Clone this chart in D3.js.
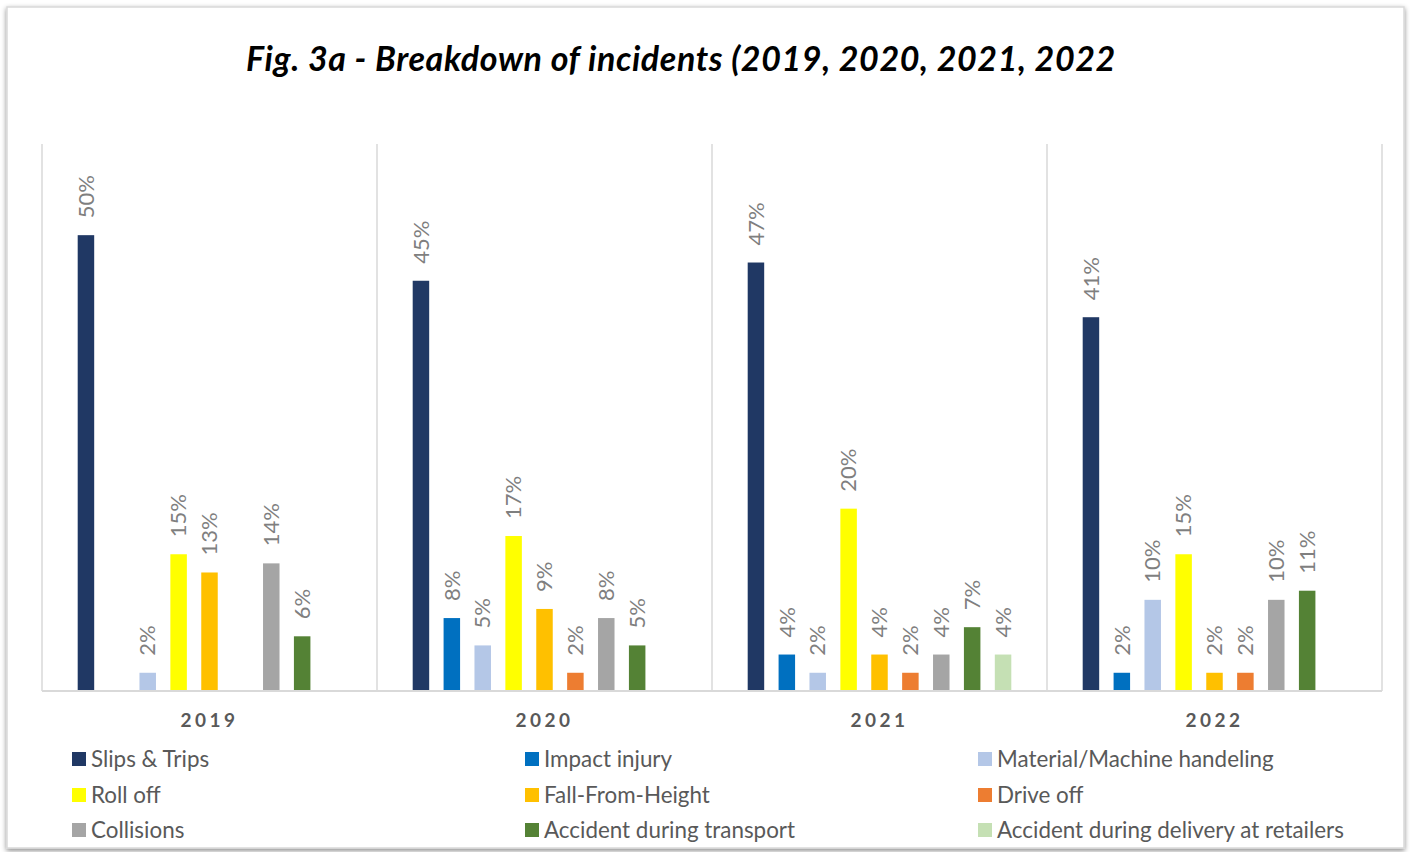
<!DOCTYPE html>
<html>
<head>
<meta charset="utf-8">
<script src="https://cdn.jsdelivr.net/npm/d3@7"></script>
<style>
  html, body { margin: 0; padding: 0; background: #fff; }
  svg { display: block; }
</style>
</head>
<body>
<svg id="chart"></svg>
<script>
// data
const years = ['2019', '2020', '2021', '2022'];
const seriesNames = [
  'Slips & Trips', 'Impact injury', 'Material/Machine handeling',
  'Roll off', 'Fall-From-Height', 'Drive off',
  'Collisions', 'Accident during transport', 'Accident during delivery at retailers'
];
const seriesColors = ['#203864', '#0070C0', '#B4C7E7', '#FFFF00', '#FFC000', '#ED7D31', '#A5A5A5', '#548235', '#C5E0B4'];
// percentages per year, in the order of seriesNames (null = no bar)
const v2019 = [50, null, 2, 15, 13, null, 14, 6, null];
const v2020 = [45, 8, 5, 17, 9, 2, 8, 5, null];
const v2021 = [47, 4, 2, 20, 4, 2, 4, 7, 4];
const v2022 = [41, 2, 10, 15, 2, 2, 10, 11, null];
const yMax = 60;
const titleText = 'Fig. 3a - Breakdown of incidents (2019, 2020, 2021, 2022';

const valuesByYear = [v2019, v2020, v2021, v2022];

const width = 1410, height = 852;
const margin = { top: 144, right: 28, bottom: 161, left: 42 }; // plot area

const svg = d3.select('#chart').attr('width', width).attr('height', height);

// 外框 + 阴影
const defs = svg.append('defs');
const f = defs.append('filter').attr('id', 'shadow')
  .attr('x', '-2%').attr('y', '-2%').attr('width', '104%').attr('height', '104%');
f.append('feDropShadow').attr('dx', 0).attr('dy', 2).attr('stdDeviation', 2.5)
  .attr('flood-color', '#000').attr('flood-opacity', 0.45);

svg.append('rect')
  .attr('x', 7).attr('y', 7).attr('width', 1397).attr('height', 841)
  .attr('fill', '#fff').attr('stroke', '#d9d9d9').attr('stroke-width', 1.5)
  .attr('filter', 'url(#shadow)');

// 标题
svg.append('text')
  .attr('x', 681).attr('y', 71)
  .attr('text-anchor', 'middle')
  .attr('font-family', 'Lato, sans-serif')
  .attr('font-size', 34).attr('font-weight', 'bold').attr('font-style', 'italic')
  .attr('letter-spacing', 0.6)
  .attr('fill', '#000')
  .text(titleText);

const plotW = width - margin.left - margin.right;
const plotBottom = height - margin.bottom;

const x0 = d3.scaleBand().domain(years).range([margin.left, margin.left + plotW]).padding(0);
const x1 = d3.scaleBand().domain(seriesNames)
  .range([28.5, x0.bandwidth() - 28.5])
  .paddingInner(0.466).paddingOuter(0.233);
const y = d3.scaleLinear().domain([0, yMax]).range([plotBottom, margin.top]);

// 分隔竖线
const seps = years.map(d => x0(d)).concat([x0.range()[1]]);
svg.append('g').selectAll('line').data(seps).join('line')
  .attr('x1', d => d).attr('x2', d => d)
  .attr('y1', y(yMax)).attr('y2', plotBottom)
  .attr('stroke', '#d9d9d9').attr('stroke-width', 1.5);

// 柱子
const groups = svg.append('g').selectAll('g').data(years).join('g')
  .attr('transform', d => `translate(${x0(d)},0)`);

const cells = groups.selectAll('g.cell')
  .data((d, i) => seriesNames.map((s, j) => ({ s, j, v: valuesByYear[i][j] })).filter(e => e.v != null))
  .join('g').attr('class', 'cell');

cells.append('rect')
  .attr('x', d => x1(d.s))
  .attr('y', d => y(d.v))
  .attr('width', x1.bandwidth())
  .attr('height', d => plotBottom - y(d.v))
  .attr('fill', d => seriesColors[d.j]);

cells.append('text')
  .attr('transform', d => `translate(${x1(d.s) + x1.bandwidth() / 2},${y(d.v) - 17}) rotate(-90)`)
  .attr('dy', '0.35em')
  .attr('font-family', 'Lato, sans-serif')
  .attr('font-size', 22)
  .attr('fill', '#7f7f7f')
  .text(d => d.v + '%');

// 基线
svg.append('line')
  .attr('x1', margin.left).attr('x2', margin.left + plotW)
  .attr('y1', plotBottom).attr('y2', plotBottom)
  .attr('stroke', '#d9d9d9').attr('stroke-width', 2);

// X 轴（年份）
const xAxis = d3.axisBottom(x0).tickSize(0).tickPadding(0);
const ax = svg.append('g').attr('transform', `translate(0,${plotBottom + 36})`).call(xAxis);
ax.select('.domain').remove();
ax.selectAll('text')
  .attr('dy', 0)
  .attr('font-family', 'Lato, sans-serif')
  .attr('font-size', 19).attr('font-weight', 'bold')
  .attr('letter-spacing', 3.5)
  .attr('fill', '#595959');

// 图例
const legendCols = [72, 525, 978];
const legendRows = [759, 795, 830];
const legend = svg.append('g').selectAll('g').data(seriesNames).join('g')
  .attr('transform', (d, i) => `translate(${legendCols[i % 3]},${legendRows[Math.floor(i / 3)]})`);
legend.append('rect')
  .attr('x', 0).attr('y', -7).attr('width', 14).attr('height', 14)
  .attr('fill', (d, i) => seriesColors[i]);
legend.append('text')
  .attr('x', 19).attr('dy', '0.35em')
  .attr('font-family', 'Lato, sans-serif')
  .attr('font-size', 22.4)
  .attr('fill', '#595959')
  .text(d => d);
</script>
</body>
</html>
